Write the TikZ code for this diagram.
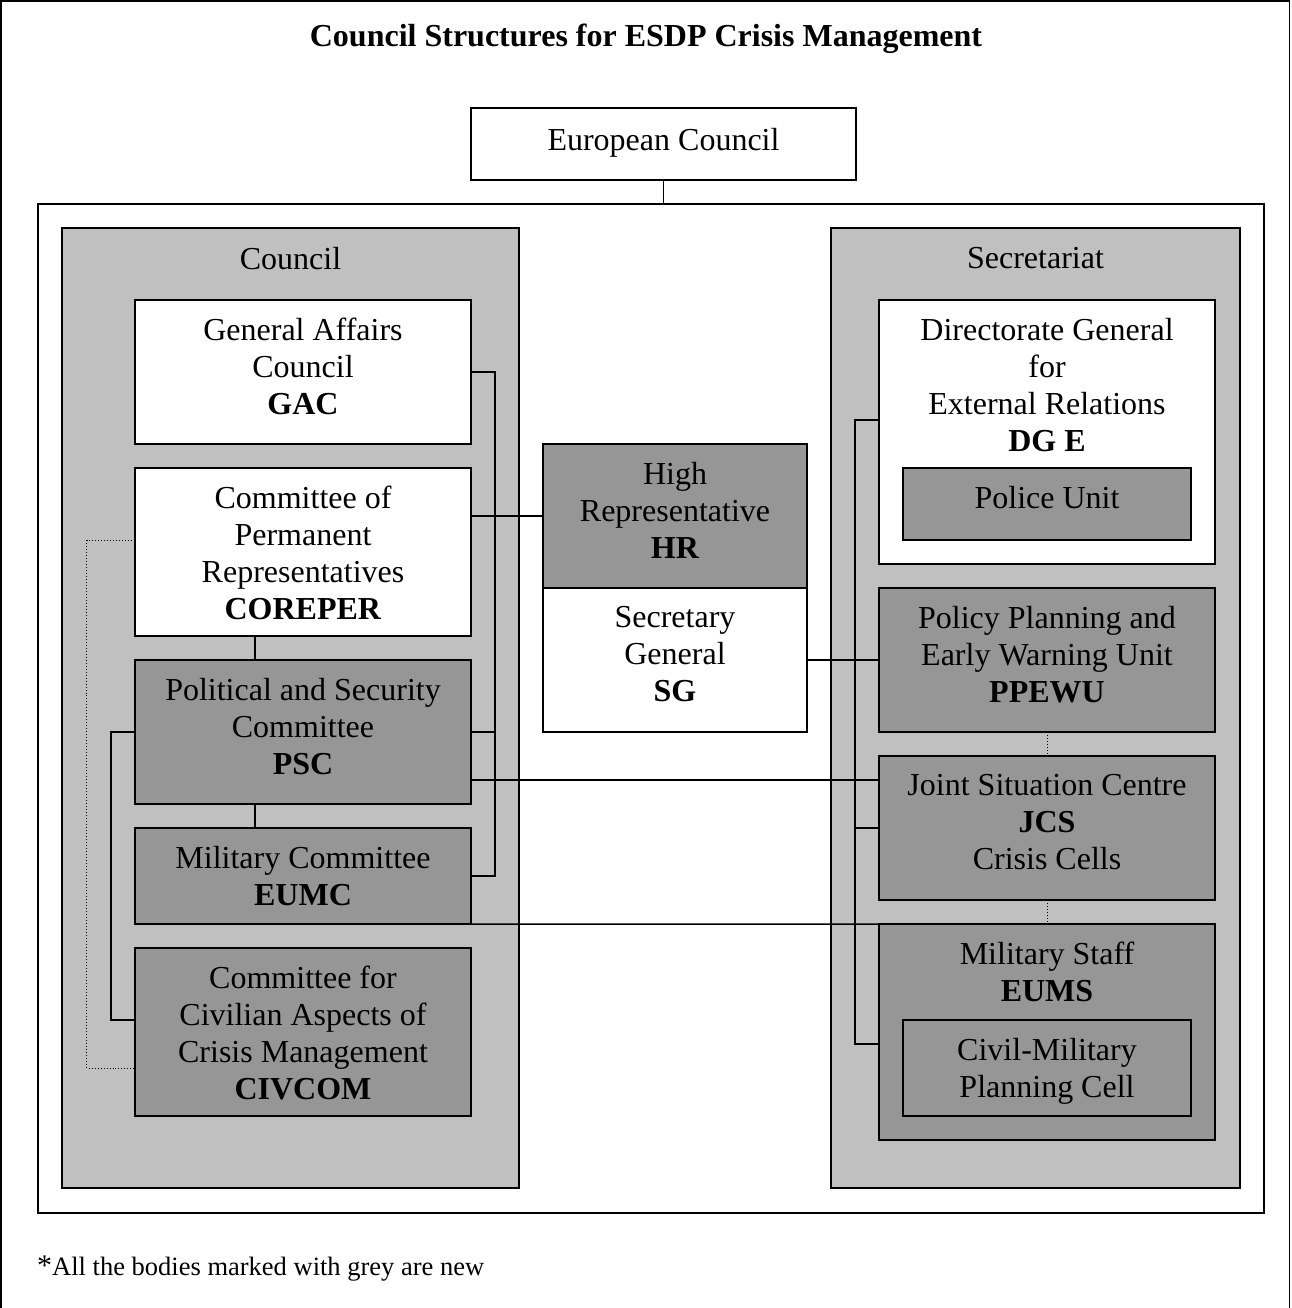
\documentclass[tikz,border=0pt]{standalone}
\usepackage{fontspec}
\setmainfont{Liberation Serif}
\definecolor{lightg}{RGB}{192,192,192}
\definecolor{darkg}{RGB}{150,150,150}
\begin{document}
\begin{tikzpicture}[x=1bp,y=-1bp,
  frame/.style={draw, line width=1.5bp, inner sep=0pt, outer sep=0pt},
  whitebox/.style={frame, fill=white},
  greybox/.style={frame, fill=darkg},
  groupbox/.style={frame, fill=lightg},
  txt/.style={anchor=north, align=center, inner sep=0pt, font=\fontsize{32bp}{37bp}\selectfont},
  link/.style={line width=1.5bp},
  dotlink/.style={line width=1bp, dotted}]
\useasboundingbox (0,0) rectangle (1291,1308);
% page frame (left, top, right)
\draw[line width=2bp] (1,1308) -- (1,1) -- (1290,1);
\draw[line width=1bp] (1289.5,1) -- (1289.5,1308);

% title
\node[anchor=base, inner sep=0pt, font=\fontsize{32bp}{37bp}\selectfont\bfseries] (title) at (646,47) {Council Structures for ESDP Crisis Management};

% European Council
\node[whitebox, minimum width=385bp, minimum height=72bp] (ec) at (663.5,144) {};
\node[txt] (ect) at (663.5,128) {European Council};

% big frame and groups
\node[frame, minimum width=1226bp, minimum height=1009bp] (big) at (651,708.5) {};
\node[groupbox, minimum width=457bp, minimum height=960bp] (cgrp) at (290.5,708) {};
\node[groupbox, minimum width=409bp, minimum height=960bp] (sgrp) at (1035.5,708) {};
\node[txt] (cgrpt) at (290.5,247) {Council};
\node[txt] (sgrpt) at (1035.5,247) {Secretariat};

% Council column
\node[whitebox, minimum width=336bp, minimum height=144bp] (gac) at (303,372) {};
\node[txt] (gact) at (303,318) {General Affairs\\Council\\\textbf{GAC}};
\node[whitebox, minimum width=336bp, minimum height=168bp] (coreper) at (303,552) {};
\node[txt] (corepert) at (303,486) {Committee of\\Permanent\\Representatives\\\textbf{COREPER}};
\node[greybox, minimum width=336bp, minimum height=144bp] (psc) at (303,732) {};
\node[txt] (psct) at (303,678) {Political and Security\\Committee\\\textbf{PSC}};
\node[greybox, minimum width=336bp, minimum height=96bp] (eumc) at (303,876) {};
\node[txt] (eumct) at (303,846) {Military Committee\\\textbf{EUMC}};
\node[greybox, minimum width=336bp, minimum height=168bp] (civcom) at (303,1032) {};
\node[txt] (civcomt) at (303,966) {Committee for\\Civilian Aspects of\\Crisis Management\\\textbf{CIVCOM}};

% middle
\node[greybox, minimum width=264bp, minimum height=144bp] (hr) at (675,516) {};
\node[txt] (hrt) at (675,462) {High\\Representative\\\textbf{HR}};
\node[whitebox, minimum width=264bp, minimum height=144bp] (sg) at (675,660) {};
\node[txt] (sgt) at (675,606) {Secretary\\General\\\textbf{SG}};

% Secretariat column
\node[whitebox, minimum width=336bp, minimum height=264bp] (dge) at (1047,432) {};
\node[txt] (dget) at (1047,318) {Directorate General\\for\\External Relations\\\textbf{DG E}};
\node[greybox, minimum width=288bp, minimum height=72bp] (police) at (1047,504) {};
\node[txt] (policet) at (1047,486) {Police Unit};
\node[greybox, minimum width=336bp, minimum height=144bp] (ppewu) at (1047,660) {};
\node[txt] (ppewut) at (1047,606) {Policy Planning and\\Early Warning Unit\\\textbf{PPEWU}};
\node[greybox, minimum width=336bp, minimum height=144bp] (jcs) at (1047,828) {};
\node[txt] (jcst) at (1047,774) {Joint Situation Centre\\\textbf{JCS}\\Crisis Cells};
\node[greybox, minimum width=336bp, minimum height=216bp] (eums) at (1047,1032) {};
\node[txt] (eumst) at (1047,942) {Military Staff\\\textbf{EUMS}};
\node[greybox, minimum width=288bp, minimum height=96bp] (cmpc) at (1047,1068) {};
\node[txt] (cmpct) at (1047,1038) {Civil-Military\\Planning Cell};

% connectors
\draw[link] (ec.south) -- (ec.south |- big.north);
\draw[link] (gac.east) -- ++(24,0) |- (eumc.east);
\draw[link] (psc.east) -- ++(24,0);
\draw[link] (hr.west) -- (hr.west -| coreper.east);
\draw[link] ([xshift=-48bp]coreper.south) -- ([xshift=-48bp]psc.north);
\draw[link] ([xshift=-48bp]psc.south) -- ([xshift=-48bp]eumc.north);
\draw[link] ([yshift=-48bp]psc.east) -- ([yshift=-48bp]psc.east -| jcs.west);
\draw[link] ([xshift=-48bp]eumc.south east) -- (eums.north west);
\draw[link] (psc.west) -- ++(-24,0) |- ([yshift=12bp]civcom.west);
\draw[dotlink] ([yshift=12bp]coreper.west) -- ++(-48,0) |- ([yshift=-36bp]civcom.west);
\draw[link] (sg.east) -- (ppewu.west);
\draw[link] ([yshift=12bp]dge.west) -- ++(-24,0) |- ([yshift=-12bp]eums.west);
\draw[link] (jcs.west) -- ++(-24,0);
\draw[dotlink] (ppewu.south) -- (jcs.north);
\draw[dotlink] (jcs.south) -- (eums.north);

% footnote
\node[anchor=base west, inner sep=0pt] (note) at (37,1275) {{\fontsize{30bp}{30bp}\selectfont *}{\fontsize{26.5bp}{31bp}\selectfont All the bodies marked with grey are new}};
\end{tikzpicture}
\end{document}
